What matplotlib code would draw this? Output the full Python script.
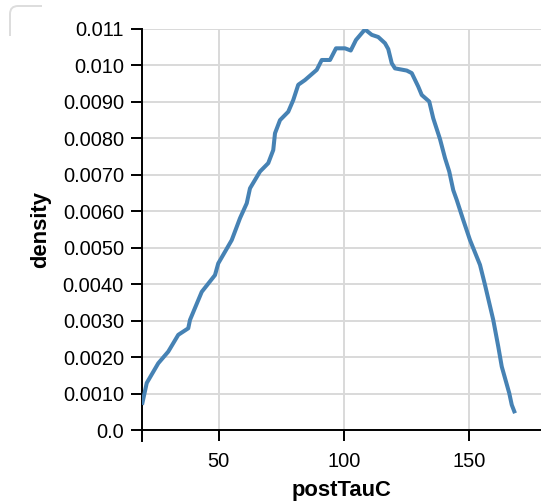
# density curve of postTauC
import numpy as np
import matplotlib.pyplot as plt
from matplotlib.path import Path
from matplotlib.patches import PathPatch

plt.rcParams['font.family'] = ['Liberation Sans', 'DejaVu Sans']

# values
tau = [19.3, 21.2, 25.8, 29.8, 33.8, 37.8, 38.5, 43.2, 48.5, 49.8, 55.2, 58.5,
       61.2, 62.5, 66.5, 69.8, 71.8, 72.5, 74.5, 77.8, 79.8, 81.8, 84.5, 89.2,
       91.2, 94.5, 96.9, 100.5, 102.8, 104.9, 108.5, 111.2, 113.8, 116.5, 117.8,
       119.2, 120.5, 125.2, 127.2, 129.8, 131.2, 134.2, 135.8, 138.5, 140.5,
       142.2, 143.8, 145.2, 147.8, 150.5, 154.5, 156.5, 159.8, 161.8, 163.2,
       166.2, 167.2, 168.5]
density = [0.00069, 0.00129, 0.00183, 0.00215, 0.00261, 0.00279, 0.00302,
           0.00379, 0.00425, 0.00457, 0.00521, 0.00581, 0.00622, 0.00663,
           0.00709, 0.00732, 0.00768, 0.00814, 0.00850, 0.00873, 0.00905,
           0.00947, 0.00960, 0.00988, 0.01015, 0.01015, 0.01047, 0.01047,
           0.01041, 0.01070, 0.01099, 0.01084, 0.01078, 0.01061, 0.01045,
           0.01006, 0.00992, 0.00986, 0.00979, 0.00942, 0.00919, 0.00901,
           0.00855, 0.00798, 0.00746, 0.00709, 0.00658, 0.00631, 0.00576,
           0.00521, 0.00453, 0.00398, 0.00302, 0.00229, 0.00174, 0.00101,
           0.00069, 0.00046]

y_ticks = [0.0, 0.001, 0.002, 0.003, 0.004, 0.005, 0.006, 0.007, 0.008,
           0.009, 0.010, 0.011]
y_labels = ['0.0', '0.0010', '0.0020', '0.0030', '0.0040', '0.0050', '0.0060',
            '0.0070', '0.0080', '0.0090', '0.010', '0.011']
x_ticks = [50, 100, 150]

W, H = 541, 504
fig = plt.figure(figsize=(W / 100, H / 100), dpi=100)
ax = fig.add_axes([142 / W, (H - 430) / H, 400 / W, 401 / H])

ax.plot(tau, density, color='#4682b4', lw=2.9, solid_joinstyle='round',
        solid_capstyle='butt', zorder=3)

ax.set_xlim(19.3, 179.3)
ax.set_ylim(0, 0.011)
ax.set_xticks(x_ticks)
ax.set_yticks(y_ticks)
ax.set_yticklabels(y_labels)
ax.grid(True, color='#d9d9d9', lw=1.4)
ax.set_axisbelow(True)

for s in ['top', 'right']:
    ax.spines[s].set_visible(False)
for s in ['left', 'bottom']:
    ax.spines[s].set_color('black')
    ax.spines[s].set_linewidth(1.4)
ax.tick_params(axis='both', length=8, width=1.4, color='black',
               labelsize=14.4, labelcolor='black')
ax.tick_params(axis='y', pad=5)
ax.tick_params(axis='x', pad=8)

# left axis line runs a little below zero
ax.plot([0, 0], [0, -0.027], transform=ax.transAxes, color='black', lw=1.4,
        clip_on=False)

ax.set_xlabel('postTauC', fontsize=15.8, fontweight='bold', labelpad=6)
ax.set_ylabel('density', fontsize=15.8, fontweight='bold', labelpad=8)

# stray rounded corner in the top-left
verts = [(42, H - 6), (18, H - 6), (10, H - 6), (10, H - 14), (10, H - 36)]
codes = [Path.MOVETO, Path.LINETO, Path.CURVE3, Path.CURVE3, Path.LINETO]
fig.patches.append(PathPatch(Path(verts, codes), transform=None,
                             fill=False, edgecolor='#dddddd', lw=1.4))

fig.savefig('out.png', dpi=100)
